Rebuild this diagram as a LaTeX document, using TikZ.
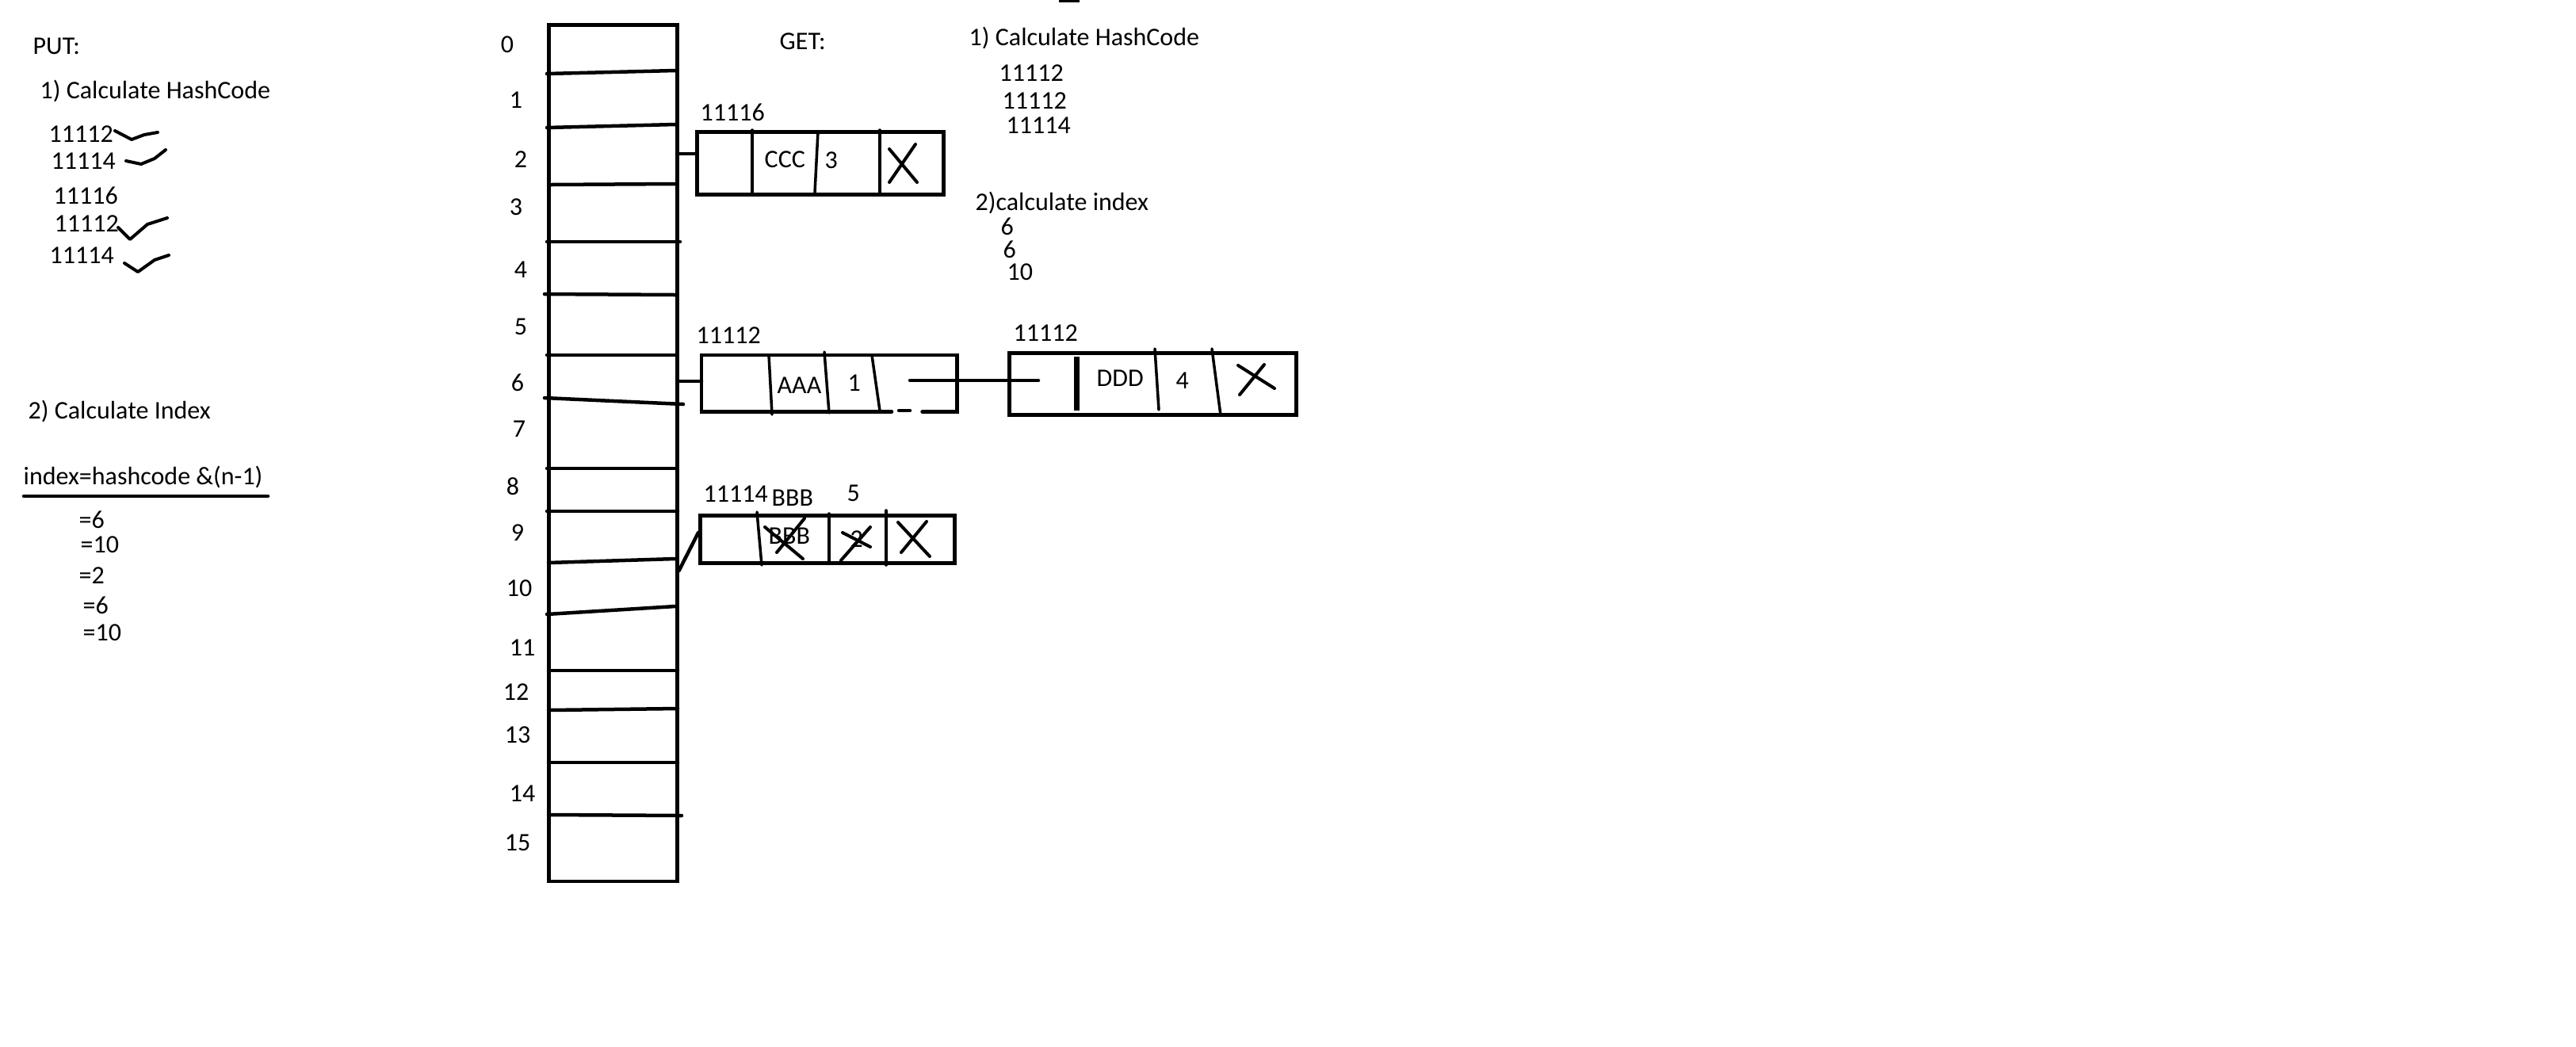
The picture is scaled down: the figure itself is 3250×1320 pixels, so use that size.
\documentclass[tikz,border=0pt]{standalone}
\usepackage{fontspec}
\setmainfont{Carlito}
\usetikzlibrary{calc}

\begin{document}
\begin{tikzpicture}[x=0.01cm, y=-0.01cm,
		rowline/.style={line width=0.045cm, line cap=round},
		divider/.style={line width=0.035cm, line cap=round},
		cross/.style={line width=0.04cm, line cap=round},
		tick/.style={line width=0.04cm, line cap=round, line join=round},
		txt/.style={anchor=base west, inner sep=0pt, font=\fontsize{9.1}{10}\selectfont},
		idx/.style={inner sep=0pt, font=\fontsize{9.1}{10}\selectfont},
		cellbox/.style={draw, line width=0.045cm, anchor=north west, inner sep=0pt}
		]
		\useasboundingbox (0,0) rectangle (3250,1320);
		
		% --- 1. PUT side notes ---
		\node[txt] (put) at (41,68) {PUT:};
		\node[txt] (puthash) at (50,124) {1) Calculate HashCode};
		\node[txt] (ph1) at (61,179) {11112};
		\node[txt] (ph2) at (64,213) {11114};
		\node[txt] (ph3) at (67,257) {11116};
		\node[txt] (ph4) at (68,292) {11112};
		\node[txt] (ph5) at (62,332) {11114};
		\draw[tick] (145,165) -- (166,176) -- (182,170) -- (199,167);
		\draw[tick] (159,203) -- (178,207) -- (195,200) -- (209,189);
		\draw[tick] (149,287) -- (164,302) -- (186,283) -- (211,275);
		\draw[tick] (157,332) -- (174,343) -- (195,328) -- (213,322);
		
		\node[txt] (putindex) at (35,528) {2) Calculate Index};
		\node[txt] (formula) at (29,611) {index=hashcode \&(n-1)};
		\draw[rowline] (30,626) -- (338,626);
		\node[txt] (pi1) at (99,666) {=6};
		\node[txt] (pi2) at (101,697) {=10};
		\node[txt] (pi3) at (99,736) {=2};
		\node[txt] (pi4) at (104,774) {=6};
		\node[txt] (pi5) at (104,808) {=10};
		
		% --- 2. The bucket table ---
		\node[cellbox, minimum width=1.62cm, minimum height=10.8cm] (tbl) at (690,29) {};
		\foreach \xa/\ya/\xb/\yb in {690/93/852/89, 690/161/852/157, 695/233/852/232,
			690/305/858/305, 687/371/852/372, 690/448/852/448, 687/502/862/510,
			690/591/852/591, 690/645/855/645, 692/710/852/705, 690/775/852/765,
			692/846/855/846, 692/896/855/894, 692/962/855/962, 692/1028/860/1029}
			\draw[rowline] (\xa,\ya) -- (\xb,\yb);
		\foreach \i/\x/\y in {0/640/56, 1/651/126, 2/657/201, 3/651/261, 4/657/340,
			5/657/412, 6/653/483, 7/655/541, 8/647/614, 9/653/672, 10/655/742,
			11/659/817, 12/651/873, 13/653/927, 14/659/1001, 15/653/1063}
			\node[idx] (n\i) at (\x,\y) {\i};
		
		% --- 3. Entries hanging off the buckets ---
		% bucket 2
		\node[txt] (k2) at (883,152) {11116};
		\node[cellbox, minimum width=3.11cm, minimum height=0.79cm] (cccbox) at (877,164) {};
		\draw[divider] (949,164) -- (949,246);
		\draw[divider] (1032,166) -- (1028,243);
		\draw[divider] (1110,164) -- (1110,243);
		\node[txt] (ccc) at (964,211) {CCC};
		\node[txt] (v2) at (1040,212) {3};
		\draw[cross] (1122,188) -- (1157,230) (1155,182) -- (1122,230);
		\coordinate (lvl2) at (0,194);
		\draw[rowline] (tbl.east |- lvl2) -- (cccbox.west |- lvl2);
		
		% bucket 6, first entry
		\node[txt] (k6a) at (878,433) {11112};
		\node[anchor=north west, inner sep=0pt, minimum width=3.21cm, minimum height=0.70cm] (aaabox) at (885,448) {};
		\draw[rowline] ($(aaabox.south east)+(-44,0)$) -- (aaabox.south east) -- (aaabox.north east)
			-- (aaabox.north west) -- (aaabox.south west) -- ++(240,0);
		\draw[rowline] (1134,518) -- (1148,518);
		\draw[divider] (970,448) -- (974,523);
		\draw[divider] (1040,444) -- (1046,521);
		\draw[divider] (1100,448) -- (1110,518);
		\node[txt] (aaa) at (980,496) {AAA};
		\node[txt] (v6a) at (1069,493) {1};
		\coordinate (lvl6) at (0,481);
		\draw[rowline] (tbl.east |- lvl6) -- (aaabox.west |- lvl6);
		
		% bucket 6, second entry
		\node[txt] (k6b) at (1278,430) {11112};
		\node[cellbox, minimum width=3.62cm, minimum height=0.78cm] (dddbox) at (1271,443) {};
		\draw[line width=0.07cm] (1358,450) -- (1358,518);
		\draw[divider] (1457,440) -- (1462,517);
		\draw[divider] (1529,440) -- (1540,524);
		\node[txt] (ddd) at (1383,487) {DDD};
		\node[txt] (v6b) at (1483,490) {4};
		\draw[cross] (1562,461) -- (1608,490) (1595,460) -- (1564,498);
		\coordinate (aaanext) at (1148,480);
		\coordinate (dddprev) at (1310,480);
		\draw[rowline] (aaanext) -- (dddprev);
		
		% bucket 10
		\node[txt] (k10) at (887,633) {11114};
		\node[txt] (bbbnew) at (973,638) {BBB};
		\node[txt] (v10new) at (1068,632) {5};
		\node[cellbox, minimum width=3.21cm, minimum height=0.60cm] (bbbbox) at (881,648) {};
		\draw[divider] (955,646) -- (961,713);
		\draw[divider] (1046,648) -- (1046,708);
		\draw[divider] (1118,644) -- (1118,713);
		\node[txt] (bbbold) at (969,686) {BBB};
		\node[txt] (v10old) at (1072,690) {2};
		\draw[cross] (965,665) -- (1013,705) (1015,654) -- (980,697);
		\draw[cross] (1063,672) -- (1098,690) (1098,665) -- (1061,707);
		\draw[cross] (1133,659) -- (1173,702) (1169,658) -- (1137,697);
		\coordinate (lvl10) at (0,720);
		\coordinate (lvl9) at (0,672);
		\draw[rowline] (tbl.east |- lvl10) -- (bbbbox.west |- lvl9);
		
		% --- 4. GET side notes ---
		\node[txt] (get) at (983,62) {GET:};
		\node[txt] (gethash) at (1222,57) {1) Calculate HashCode};
		\node[txt] (gh1) at (1260,102) {11112};
		\node[txt] (gh2) at (1264,137) {11112};
		\node[txt] (gh3) at (1269,168) {11114};
		\node[txt] (getindex) at (1230,265) {2)calculate index};
		\node[txt] (gi1) at (1262,296) {6};
		\node[txt] (gi2) at (1265,325) {6};
		\node[txt] (gi3) at (1270,353) {10};
		
		\fill (1336,0) rectangle (1362,3);
	\end{tikzpicture}
\end{document}
